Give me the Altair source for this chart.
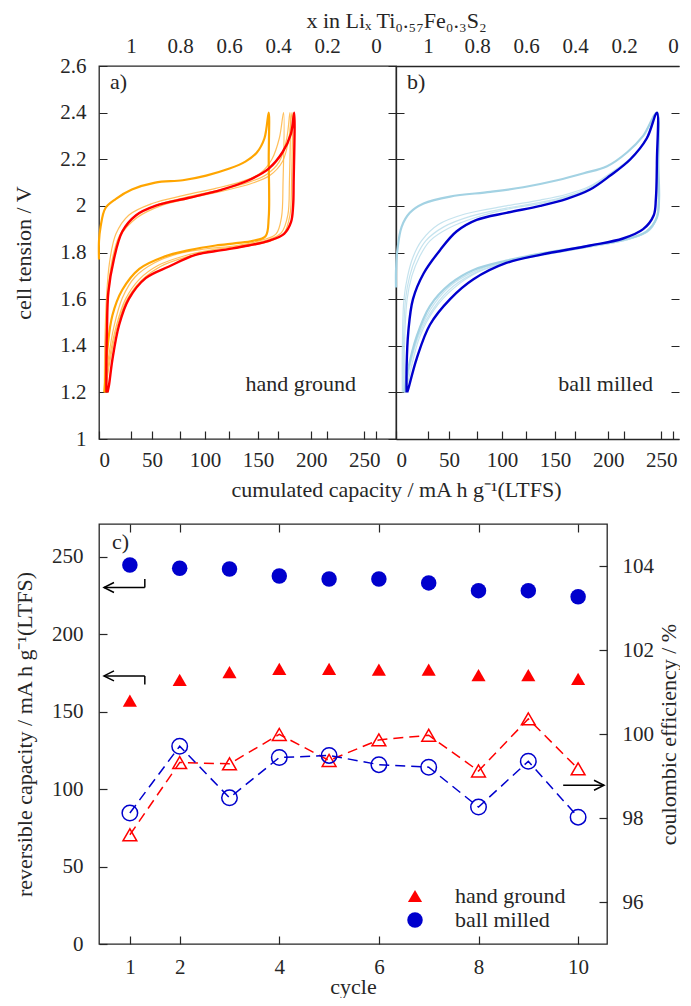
import altair as alt
import pandas as pd

FONT = "Liberation Serif"
FS = 21      # tick labels
FT = 22      # titles and texts
INK = "#262626"

# ---------------- panel a: hand ground (capacity mA h/g, cell tension V) ----------------
HG_FIRST_CAP = [0, 0, 1.5, 6, 16, 31, 53, 79, 101, 123, 138, 149, 156, 160,
                160, 160, 157, 145, 129, 110, 85, 60, 38, 22, 12.6, 8, 5.7, 5]
HG_FIRST_V = [1.77, 1.85, 1.91, 1.99, 2.03, 2.07, 2.10, 2.11, 2.13, 2.16, 2.19, 2.23, 2.29, 2.40,
              2.20, 1.95, 1.87, 1.85, 1.84, 1.83, 1.81, 1.78, 1.73, 1.64, 1.53, 1.39, 1.24, 1.20]

HG_C2_CAP = [5, 5.5, 7, 10, 16, 28, 50, 80, 110, 135, 152, 163, 170, 174,
             173.5, 172, 167, 155, 130, 100, 75, 52, 34, 22, 14, 9, 6.5, 6]
HG_C2_V = [1.2, 1.4, 1.6, 1.76, 1.88, 1.96, 2.01, 2.045, 2.075, 2.105, 2.14, 2.2, 2.29, 2.4,
           2.1, 1.95, 1.88, 1.855, 1.83, 1.815, 1.795, 1.755, 1.695, 1.605, 1.48, 1.35, 1.25, 1.2]

HG_C3_CAP = [5.5, 6, 8, 12, 19, 33, 55, 85, 115, 140, 158, 170, 177, 180,
             179.5, 178, 172, 160, 135, 105, 80, 56, 38, 25, 16, 10, 7, 6.5]
HG_C3_V = [1.2, 1.4, 1.6, 1.76, 1.87, 1.955, 2.005, 2.04, 2.07, 2.1, 2.135, 2.19, 2.29, 2.4,
           2.1, 1.96, 1.885, 1.855, 1.83, 1.81, 1.785, 1.745, 1.685, 1.6, 1.48, 1.35, 1.25, 1.2]

HG_C4_CAP = [6, 6.5, 8.5, 13, 20, 36, 58, 88, 118, 143, 161, 173, 179, 182,
             181.5, 180, 174, 162, 137, 108, 82, 58, 40, 26, 17, 11, 7.5, 7]
HG_C4_V = [1.2, 1.4, 1.6, 1.76, 1.87, 1.95, 2.0, 2.035, 2.065, 2.095, 2.13, 2.19, 2.29, 2.4,
           2.1, 1.96, 1.88, 1.85, 1.825, 1.805, 1.78, 1.74, 1.68, 1.595, 1.48, 1.35, 1.25, 1.2]

HG_LAST_CAP = [7, 7, 7.5, 8.8, 14, 22, 35, 53, 85, 116, 141, 160, 173, 181, 184,
               183.5, 183, 181, 174.5, 160, 141, 116, 91, 66, 44, 28, 19, 12.6, 9.4, 8]
HG_LAST_V = [1.2, 1.35, 1.46, 1.63, 1.77, 1.89, 1.96, 2.0, 2.035, 2.07, 2.11, 2.16, 2.23, 2.31, 2.4,
             2.1, 2.0, 1.93, 1.88, 1.85, 1.83, 1.81, 1.79, 1.74, 1.69, 1.6, 1.49, 1.34, 1.23, 1.2]

# ---------------- panel b: ball milled ----------------
BM_FIRST_CAP = [0, 0, 1.3, 5.3, 13, 26, 51, 89, 120, 152, 177, 199, 218, 233, 246,
                247, 248, 246, 236, 214, 183, 136, 104, 73, 51, 32, 19.5, 11, 8]
BM_FIRST_V = [1.65, 1.72, 1.81, 1.91, 1.97, 2.01, 2.04, 2.06, 2.08, 2.11, 2.14, 2.17, 2.23, 2.3, 2.4,
              2.2, 2.03, 1.95, 1.89, 1.855, 1.83, 1.795, 1.765, 1.725, 1.665, 1.57, 1.44, 1.29, 1.2]

BM_C2_CAP = [6, 6, 7.5, 11, 16, 24, 40, 65, 104, 136, 161, 183, 202, 221, 236, 246,
             247.5, 247, 240, 222, 190, 150, 110, 80, 55, 36, 22, 13, 8]
BM_C2_V = [1.2, 1.4, 1.6, 1.7, 1.78, 1.85, 1.92, 1.965, 2.0, 2.025, 2.05, 2.085, 2.14, 2.205, 2.29, 2.4,
           2.1, 1.97, 1.9, 1.86, 1.83, 1.8, 1.77, 1.73, 1.67, 1.58, 1.46, 1.32, 1.2]

BM_C3_CAP = [7, 7, 9, 13, 19, 28, 45, 70, 104, 136, 161, 183, 202, 221, 236, 246,
             247, 246.5, 239, 220, 188, 148, 108, 78, 54, 36, 22, 13, 9]
BM_C3_V = [1.2, 1.4, 1.6, 1.7, 1.78, 1.85, 1.91, 1.955, 1.99, 2.015, 2.042, 2.08, 2.135, 2.2, 2.29, 2.4,
           2.1, 1.965, 1.895, 1.857, 1.828, 1.797, 1.765, 1.72, 1.655, 1.565, 1.45, 1.31, 1.2]

BM_C4_CAP = [8, 8, 10.5, 15, 22, 32, 50, 75, 104, 136, 161, 183, 202, 221, 236, 246,
             247, 246, 238, 218, 186, 146, 106, 77, 54, 36, 22.5, 14, 9.5]
BM_C4_V = [1.2, 1.4, 1.6, 1.7, 1.78, 1.85, 1.905, 1.95, 1.985, 2.01, 2.037, 2.076, 2.133, 2.2, 2.29, 2.4,
           2.1, 1.96, 1.893, 1.855, 1.827, 1.795, 1.76, 1.715, 1.645, 1.555, 1.44, 1.3, 1.2]

BM_LAST_CAP = [10, 10, 11.6, 16, 26, 41.5, 57, 76, 104, 136, 161, 183, 202, 221, 236.5, 246,
               246, 245, 243, 233, 214, 183, 136, 104, 73, 51, 32, 19.5, 11.6, 10.5]
BM_LAST_V = [1.2, 1.31, 1.46, 1.6, 1.71, 1.81, 1.89, 1.94, 1.97, 2.0, 2.03, 2.07, 2.13, 2.2, 2.29, 2.4,
             2.2, 2.03, 1.96, 1.9, 1.86, 1.83, 1.79, 1.755, 1.685, 1.6, 1.49, 1.345, 1.215, 1.2]

CAP_TICKS = [0, 50, 100, 150, 200, 250]
V_TICKS = [1, 1.2, 1.4, 1.6, 1.8, 2, 2.2, 2.4, 2.6]
LI_TICKS = [1, 0.8, 0.6, 0.4, 0.2, 0]

# ---------------- panel c: cycling ----------------
CYCLES = [1, 2, 3, 4, 5, 6, 7, 8, 9, 10]
HG_CAPACITY = [157, 170.5, 175.5, 177.5, 177.5, 177, 177, 173.5, 173.5, 171]
BM_CAPACITY = [244.5, 242.5, 242, 237.5, 235.5, 235.5, 233, 228, 228, 224]
HG_CE = [97.6, 99.32, 99.29, 99.99, 99.37, 99.86, 99.97, 99.12, 100.36, 99.17]
BM_CE = [98.12, 99.71, 98.48, 99.44, 99.49, 99.27, 99.21, 98.26, 99.35, 98.02]
SAMPLES = ["hand ground", "ball milled"]
CYC_TICKS = [1, 2, 4, 6, 8, 10]
CAPC_TICKS = [0, 50, 100, 150, 200, 250]
CE_TICKS = [96, 98, 100, 102, 104]

# annotation arrows (data coordinates)
L_ARROW_TIP = [0.48, 0.48]
L_ARROW_END = [1.30, 1.30]
L_ARROW_CAP = [230, 173]
L_ARROW_HOOK = [235.5, 167.5]
R_ARROW_START = [9.7]
R_ARROW_TIP = [10.52]
R_ARROW_CE = [98.78]

RED = "#ff0000"
BLUE = "#0000cd"

# ---------------- layout constants ----------------
TOP_W, TOP_H = 297, 373
TOP_WB = 283                       # panel b runs to the right edge of the page
PX_PER_CAP = TOP_W / 280
PX_PER_LI = 245
LI_LEFT = 1.131
BOT_W, BOT_H = 508, 420
GAP = 85
CYC_DOMAIN = [0.38, 10.58]
TICK = 8
LBL = "'' + datum.value"


def curve_df(pairs):
    frames = []
    for k, (caps, vs) in enumerate(pairs):
        frames.append(pd.DataFrame({"cap": caps, "v": vs, "i": range(len(caps)), "curve": k}))
    return pd.concat(frames, ignore_index=True)


def curve_panel(thin, first, last, thin_col, first_col, last_col, tag, name, left):
    w = TOP_W if left else TOP_WB
    dom = {} if left else dict(domain=True, domainColor=INK, domainWidth=1.3)
    x_cap = alt.X(
        "cap:Q",
        scale=alt.Scale(domain=[0, w / PX_PER_CAP], nice=False, zero=False),
        axis=alt.Axis(values=CAP_TICKS, labelPadding=10, grid=True,
                      gridDash=[0, TOP_H - TICK, TICK, 3000],
                      title="cumulated capacity / mA h g⁻¹(LTFS)" if left else None,
                      titleX=TOP_W, titleY=50, titleAlign="center", titleBaseline="middle",
                      **dom),
    )
    y_v = alt.Y(
        "v:Q",
        scale=alt.Scale(domain=[1, 2.6], nice=False, zero=False),
        axis=alt.Axis(values=V_TICKS, labels=left, labelExpr=LBL, labelPadding=13, grid=True,
                      gridDash=[TICK, w - 2 * TICK, TICK, 3000],
                      title="cell tension / V" if left else None,
                      titleAngle=270, titleX=-76, titleY=TOP_H / 2, titleAlign="center",
                      titleBaseline="middle", **dom),
    )
    thin_l = alt.Chart(curve_df(thin)).mark_line(
        interpolate="catmull-rom", color=thin_col, strokeWidth=1.2, opacity=0.9
    ).encode(x=x_cap, y=y_v, detail="curve:N", order="i:Q")
    first_l = alt.Chart(curve_df([first])).mark_line(
        interpolate="catmull-rom", color=first_col, strokeWidth=2.2
    ).encode(x=x_cap, y=y_v, order="i:Q")
    last_l = alt.Chart(curve_df([last])).mark_line(
        interpolate="catmull-rom", color=last_col, strokeWidth=2.4
    ).encode(x=x_cap, y=y_v, order="i:Q")
    curves = alt.layer(thin_l, first_l, last_l)

    li = alt.Chart(pd.DataFrame({"li": LI_TICKS})).mark_point(opacity=0).encode(
        x=alt.X("li:Q",
                scale=alt.Scale(domain=[LI_LEFT, LI_LEFT - w / PX_PER_LI], nice=False, zero=False),
                axis=alt.Axis(orient="top", values=LI_TICKS, labelExpr=LBL, labelPadding=10,
                              grid=True, gridDash=[0, TOP_H - TICK, TICK, 3000],
                              title="x in Liₓ Ti₀.₅₇Fe₀.₃S₂" if left else None,
                              titleX=TOP_W, titleY=-46, titleAlign="center",
                              titleBaseline="middle", **dom))
    )
    tag_t = alt.Chart(pd.DataFrame({"t": [tag]})).mark_text(
        font=FONT, fontSize=FT, color=INK, align="left", baseline="middle"
    ).encode(text="t:N", x=alt.value(11), y=alt.value(16))
    name_t = alt.Chart(pd.DataFrame({"t": [name]})).mark_text(
        font=FONT, fontSize=FT, color=INK, align="right", baseline="middle"
    ).encode(text="t:N", x=alt.value(257), y=alt.value(318))
    out = alt.layer(curves, li, tag_t, name_t).resolve_scale(x="independent").properties(
        width=w, height=TOP_H)
    if not left:
        out = out.properties(view=alt.ViewBackground(stroke="transparent"))
    return out


panel_a = curve_panel([(HG_C2_CAP, HG_C2_V), (HG_C3_CAP, HG_C3_V), (HG_C4_CAP, HG_C4_V)],
                      (HG_FIRST_CAP, HG_FIRST_V), (HG_LAST_CAP, HG_LAST_V),
                      "#ffb84a", "#ffa500", RED, "a)", "hand ground", True)
panel_b = curve_panel([(BM_C2_CAP, BM_C2_V), (BM_C3_CAP, BM_C3_V), (BM_C4_CAP, BM_C4_V)],
                      (BM_FIRST_CAP, BM_FIRST_V), (BM_LAST_CAP, BM_LAST_V),
                      "#bfe0ec", "#a3d2e3", BLUE, "b)", "ball milled", False)
top = alt.hconcat(panel_a, panel_b, spacing=0, bounds="flush")

# ---------------- panel c ----------------
x_cyc = alt.X(
    "cycle:Q",
    scale=alt.Scale(domain=CYC_DOMAIN, nice=False, zero=False),
    axis=alt.Axis(values=CYC_TICKS, title="cycle", labelPadding=12, grid=True,
                  gridDash=[TICK, BOT_H - 2 * TICK, TICK, 3000], titleY=42,
                  titleBaseline="middle"),
)
y_cap = alt.Y(
    "cap:Q",
    scale=alt.Scale(domain=[0, 271], nice=False, zero=False),
    axis=alt.Axis(values=CAPC_TICKS, labelPadding=16, grid=True, gridDash=[TICK, 3000],
                  title="reversible capacity / mA h g⁻¹(LTFS)", titleAngle=270, titleX=-75,
                  titleY=BOT_H / 2, titleAlign="center", titleBaseline="middle"),
)
y_ce = alt.Y(
    "ce:Q",
    scale=alt.Scale(domain=[95, 105], nice=False, zero=False),
    axis=alt.Axis(orient="right", values=CE_TICKS, labelPadding=15, grid=True,
                  gridDash=[TICK, 3000], title="coulombic efficiency / %", titleAngle=270,
                  titleX=61, titleY=BOT_H / 2, titleAlign="center", titleBaseline="middle"),
)

cap_df = pd.DataFrame({
    "cycle": CYCLES * 2,
    "cap": HG_CAPACITY + BM_CAPACITY,
    "sample": [SAMPLES[0]] * 10 + [SAMPLES[1]] * 10,
})
# legend position is relative to the origin of the whole layout (panel a's plot corner)
leg = alt.Legend(title=None, orient="none", legendX=305, legendY=TOP_H + GAP + 361,
                 labelFont=FONT, labelFontSize=FT, labelColor=INK, symbolSize=260,
                 rowPadding=2, labelOffset=29, padding=0, symbolStrokeWidth=0)
filled = alt.Chart(cap_df).mark_point(filled=True, opacity=1).encode(
    x=x_cyc, y=y_cap,
    color=alt.Color("sample:N", scale=alt.Scale(domain=SAMPLES, range=[RED, BLUE]), legend=leg),
    shape=alt.Shape("sample:N", scale=alt.Scale(domain=SAMPLES, range=["triangle-up", "circle"]),
                    legend=leg),
    size=alt.Size("sample:N", scale=alt.Scale(domain=SAMPLES, range=[200, 240]), legend=None),
)

arr_h = pd.DataFrame({"cycle": L_ARROW_TIP, "cycle2": L_ARROW_END, "cap": L_ARROW_CAP})
arr_v = pd.DataFrame({"cycle": L_ARROW_END, "cap": L_ARROW_CAP, "cap2": L_ARROW_HOOK})
rule_h = alt.Chart(arr_h).mark_rule(color="black", strokeWidth=1.5).encode(
    x=x_cyc, x2="cycle2:Q", y=y_cap)
rule_v = alt.Chart(arr_v).mark_rule(color="black", strokeWidth=1.5).encode(
    x=x_cyc, y=y_cap, y2="cap2:Q")
head_l = alt.Chart(arr_h).mark_point(
    shape="M 1 -0.5 L 0 0 L 1 0.5", size=400, filled=False, color="black", strokeWidth=1.5,
    opacity=1).encode(x=x_cyc, y=y_cap)
tag_c = alt.Chart(pd.DataFrame({"t": ["c)"]})).mark_text(
    font=FONT, fontSize=FT, color=INK, align="left", baseline="middle"
).encode(text="t:N", x=alt.value(13), y=alt.value(18))
cap_layer = alt.layer(filled, rule_h, rule_v, head_l, tag_c)

hg_ce = pd.DataFrame({"cycle": CYCLES, "ce": HG_CE})
bm_ce = pd.DataFrame({"cycle": CYCLES, "ce": BM_CE})
line_hg = alt.Chart(hg_ce).mark_line(color=RED, strokeWidth=1.5, strokeDash=[10, 6]).encode(
    x=x_cyc, y=y_ce)
line_bm = alt.Chart(bm_ce).mark_line(color=BLUE, strokeWidth=1.5, strokeDash=[10, 6]).encode(
    x=x_cyc, y=y_ce)
pts_hg = alt.Chart(hg_ce).mark_point(shape="triangle-up", size=190, filled=False, color=RED,
                                     strokeWidth=1.5, opacity=1).encode(x=x_cyc, y=y_ce)
pts_bm = alt.Chart(bm_ce).mark_point(shape="circle", size=240, filled=False, color=BLUE,
                                     strokeWidth=1.5, opacity=1).encode(x=x_cyc, y=y_ce)
arr_r = pd.DataFrame({"cycle": R_ARROW_START, "cycle2": R_ARROW_TIP, "ce": R_ARROW_CE})
rule_r = alt.Chart(arr_r).mark_rule(color="black", strokeWidth=1.5).encode(
    x=x_cyc, x2="cycle2:Q", y=y_ce)
head_r = alt.Chart(pd.DataFrame({"cycle": R_ARROW_TIP, "ce": R_ARROW_CE})).mark_point(
    shape="M -1 -0.5 L 0 0 L -1 0.5", size=400, filled=False, color="black", strokeWidth=1.5,
    opacity=1).encode(x=x_cyc, y=y_ce)
ce_layer = alt.layer(line_hg, line_bm, pts_hg, pts_bm, rule_r, head_r)

panel_c = alt.layer(cap_layer, ce_layer).resolve_scale(y="independent").properties(
    width=BOT_W, height=BOT_H)

# with flush bounds the nested top row counts as zero height, so the spacing carries it
chart = alt.vconcat(top, panel_c, spacing=TOP_H + GAP, bounds="flush").properties(
    padding={"left": 3, "top": 0, "right": 0, "bottom": 0}
).configure_view(
    stroke=INK, strokeWidth=1.3
).configure_axis(
    labelFont=FONT, titleFont=FONT, labelFontSize=FS, titleFontSize=FT,
    titleFontWeight="normal", labelColor=INK, titleColor=INK, domain=False, ticks=False,
    gridColor=INK, gridWidth=1.2, gridOpacity=1
)

chart.save("out.html", embed_options={"renderer": "svg", "actions": False})
